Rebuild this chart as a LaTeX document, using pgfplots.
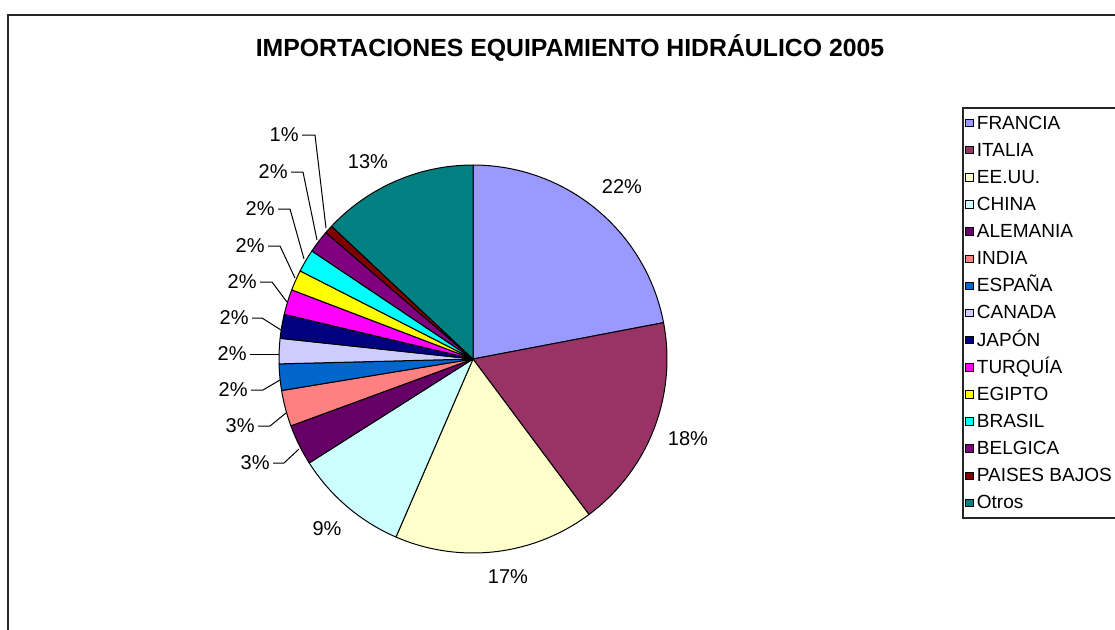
\documentclass[border=0pt]{standalone}
\usepackage{pgfplots}
\pgfplotsset{compat=1.18}
\usepackage{fontspec}
\setmainfont{Liberation Sans}

\definecolor{cFR}{HTML}{9999FF}
\definecolor{cIT}{HTML}{993366}
\definecolor{cUS}{HTML}{FFFFCC}
\definecolor{cCN}{HTML}{CCFFFF}
\definecolor{cDE}{HTML}{660066}
\definecolor{cIN}{HTML}{FF8080}
\definecolor{cES}{HTML}{0066CC}
\definecolor{cCA}{HTML}{CCCCFF}
\definecolor{cJP}{HTML}{000080}
\definecolor{cTR}{HTML}{FF00FF}
\definecolor{cEG}{HTML}{FFFF00}
\definecolor{cBR}{HTML}{00FFFF}
\definecolor{cBE}{HTML}{800080}
\definecolor{cNL}{HTML}{800000}
\definecolor{cOT}{HTML}{008080}

% share (%) / colour / name
\def\piedata{22.0/cFR/FRANCIA, 17.8/cIT/ITALIA, 16.7/cUS/EE.UU., 9.5/cCN/CHINA,
  3.4/cDE/ALEMANIA, 3.0/cIN/INDIA, 2.2/cES/ESPAÑA, 2.1/cCA/CANADA, 2.0/cJP/JAPÓN,
  2.1/cTR/TURQUÍA, 1.7/cEG/EGIPTO, 1.9/cBR/BRASIL, 1.9/cBE/BELGICA,
  0.7/cNL/PAISES BAJOS, 13.0/cOT/Otros}

\begin{document}
\begin{tikzpicture}
\useasboundingbox (0,0) rectangle (557.5pt,314.5pt);
\begin{axis}[
  at={(236.5pt,135pt)}, anchor=center,
  width=194pt, height=194pt, scale only axis,
  xmin=-1, xmax=1, ymin=-1, ymax=1,
  hide axis, clip=false]
\gdef\angstart{90}
\foreach \v/\c/\n in \piedata {
  \pgfmathsetmacro\angend{\angstart-3.6*\v}
  \edef\tmp{\noexpand\addplot[draw=black, line width=0.5pt, line join=round,
     fill=\c, domain=\angend:\angstart, samples=60]
     ({cos(x)},{sin(x)}) -- (axis cs:0,0) -- cycle;}
  \tmp
  \xdef\angstart{\angend}
}
\end{axis}

\begin{scope}[x=0.5pt, y=-0.5pt, shift={(0pt,314.5pt)}]
  % chart frame
  \draw[line width=0.6pt, black!85] (8,700) -- (8,15) -- (1200,15);
  % title
  \node[font=\fontsize{12.4}{14}\selectfont\bfseries, inner sep=0pt] at (570,48)
    {IMPORTACIONES EQUIPAMIENTO HIDRÁULICO 2005};
  % percentage labels
  \begin{scope}[every node/.style={font=\fontsize{10}{12}\selectfont, inner sep=0pt}]
    \node at (622,187) {22\%};
    \node at (688,439) {18\%};
    \node at (508,577) {17\%};
    \node at (327,529) {9\%};
    \node at (368,162) {13\%};
    \node[anchor=east] at (299,135) {1\%};
    \node[anchor=east] at (288,172) {2\%};
    \node[anchor=east] at (275,209) {2\%};
    \node[anchor=east] at (265,246) {2\%};
    \node[anchor=east] at (257,282) {2\%};
    \node[anchor=east] at (249,318) {2\%};
    \node[anchor=east] at (247,354) {2\%};
    \node[anchor=east] at (248,390) {2\%};
    \node[anchor=east] at (255,426) {3\%};
    \node[anchor=east] at (270,463) {3\%};
  \end{scope}
  % leader lines
  \begin{scope}[line width=0.5pt]
    \draw (302,135) -- (315,135) -- (326,228);
    \draw (291,172) -- (303,172) -- (317,240);
    \draw (278,209) -- (290,209) -- (304,259);
    \draw (268,246) -- (280,246) -- (295,278);
    \draw (260,282) -- (272,282) -- (287,302);
    \draw (252,318) -- (262,318) -- (281,330);
    \draw (250,354) -- (279,354);
    \draw (251,390) -- (263,390) -- (280,380);
    \draw (258,426) -- (270,426) -- (286,413);
    \draw (273,463) -- (284,463) -- (299,449);
  \end{scope}
  % legend
  \draw[line width=0.6pt, black!85, fill=white] (963,108) rectangle (1125,518);
  \foreach \v/\c/\n [count=\i from 0] in \piedata {
    \pgfmathsetmacro\yy{122+27.14*\i}
    \draw[line width=0.4pt, fill=\c] (965.5,\yy-2.8) rectangle (973,\yy+4.7);
    \node[anchor=base west, inner sep=0pt, font=\fontsize{9.5}{11}\selectfont]
      at (976.5,\yy+7) {\n};
  }
\end{scope}
\end{tikzpicture}
\end{document}
